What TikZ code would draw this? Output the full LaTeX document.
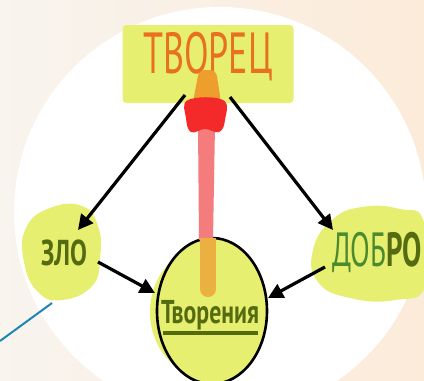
\documentclass[tikz,border=0pt]{standalone}
\usepackage{fontspec}
\setmainfont{PT Sans}
\usepackage{graphicx}
\usetikzlibrary{arrows.meta,calc,shapes.geometric}
\definecolor{creamL}{HTML}{F8F4EE}
\definecolor{creamR}{HTML}{FCEBD9}
\definecolor{hilite}{HTML}{E6EF70}
\definecolor{orangetxt}{HTML}{E8701E}
\definecolor{olive}{HTML}{556B12}
\definecolor{greentxt}{HTML}{4C8A2E}
\definecolor{barorange}{HTML}{EE9E2C}
\definecolor{barred}{HTML}{F42A2A}
\definecolor{barpink}{HTML}{F47C7C}
\definecolor{bartan}{HTML}{EBB042}
\definecolor{leader}{HTML}{1E86B2}
\begin{document}
\begin{tikzpicture}[x=1pt,y=-1pt,
  conn/.style={draw=black, line width=3.2pt, -{Triangle[length=15pt,width=15pt]}},
  blob/.style={fill=hilite},
  lbl/.style={inner sep=0pt}]
\useasboundingbox (0,0) rectangle (424,381);
\shade[left color=creamL,right color=creamR] (0,0) rectangle (424,381);
\fill[white, rotate around={-6:(220,212)}] (220,212) ellipse [x radius=206, y radius=205];
% leader line
\coordinate (leadA) at (0,341);
\coordinate (leadB) at (52,303);
\draw[leader, line width=2pt] (leadA) -- (leadB);
% blobs
\fill[blob] plot[smooth cycle, tension=0.8] coordinates {(50,208) (82,206) (98,226) (100,258) (92,286) (62,300) (38,292) (24,262) (26,228)};
\fill[blob] plot[smooth cycle, tension=0.8] coordinates {(332,220) (362,207) (400,209) (424,222) (426,285) (395,300) (350,298) (318,282) (313,250)};
% top box
\node[fill=hilite, minimum width=171, minimum height=78, rounded corners=4pt] (tvorets) at (208,64) {};
\node[lbl, text=orangetxt, font=\fontsize{58}{58}\selectfont] (tvoretsT) at (208,57) {\scalebox{0.62}[1]{ТВОРЕЦ}};
% bottom circle
\fill[hilite] (209,312) ellipse [x radius=59, y radius=66];
\node[draw, ellipse, fill=hilite, line width=2.6pt, minimum width=110, minimum height=146] (tvor) at (212,311) {};
% vertical bar
\fill[barorange, rounded corners=6pt] (193,102) -- (199,70) -- (216,70) -- (221,102) -- cycle;
\fill[barpink] (198,126) -- (215,126) -- (213,240) -- (199,240) -- cycle;
\fill[barred] plot[smooth cycle, tension=0.7] coordinates {(188,100) (223,100) (225,120) (219,132) (205,129) (191,132) (186,118)};
\fill[bartan] (200,238) rectangle (216,289);
\fill[bartan] (208,289) circle (8);
% labels
\node[lbl, text=olive, font=\bfseries\fontsize{36}{36}\selectfont] (zlo) at (64,253) {\scalebox{0.7}[1]{ЗЛО}};
\node[lbl, font=\fontsize{48}{48}\selectfont] (dobro) at (377,252) {\scalebox{0.6}[1]{\textcolor{greentxt}{ДОБ}\textcolor{olive}{\bfseries РО}}};
\node[lbl, text=olive, font=\bfseries\fontsize{33}{33}\selectfont] (tvorT) at (210,315) {\scalebox{0.72}[1]{Творения}};
\draw[olive, line width=3.2pt] ($(tvor)+(-49,22)$) -- ($(tvor)+(46,22)$);
% connectors
\draw[conn] ($(tvorets)+(-23,31)$) -- ($(zlo)+(14,-23)$);
\draw[conn] ($(tvorets)+(22,33)$) -- ($(dobro)+(-44,-22)$);
\draw[conn] ($(zlo)+(34,9)$) -- ($(tvor)+(-57,-18)$);
\draw[conn] ($(dobro)+(-52,15)$) -- ($(tvor)+(56,-13)$);
\end{tikzpicture}
\end{document}
